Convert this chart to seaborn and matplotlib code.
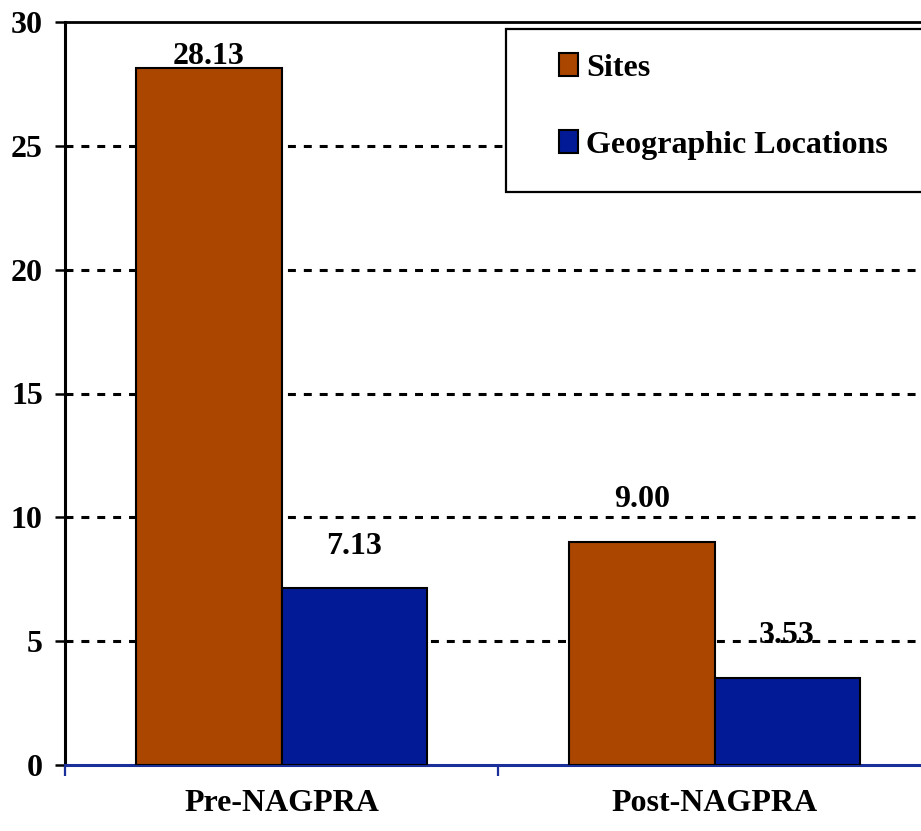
import matplotlib
matplotlib.use("Agg")
import matplotlib.pyplot as plt
from matplotlib.patches import Patch, Rectangle
from matplotlib.ticker import FixedLocator
import pandas as pd
import seaborn as sns

# Data
periods = ["Pre-NAGPRA", "Post-NAGPRA"]
series = ["Sites", "Geographic Locations"]
sites = [28.13, 9.00]
geo_locations = [7.13, 3.53]
y_ticks = [0, 5, 10, 15, 20, 25, 30]

orange = "#AA4600"
blue = "#031A97"
axis_blue = "#1A2F9A"

plt.rcParams["font.family"] = ["Liberation Serif", "DejaVu Serif"]
plt.rcParams["font.weight"] = "bold"
FS = 23

df = pd.DataFrame({
    "period": periods * 2,
    "series": [series[0]] * 2 + [series[1]] * 2,
    "value": sites + geo_locations,
})

fig = plt.figure(figsize=(9.21, 8.31), dpi=100)
ax = fig.add_axes([65 / 921, 66 / 831, 866 / 921, 743 / 831])

sns.barplot(data=df, x="period", y="value", hue="series", order=periods,
            hue_order=series, palette=[orange, blue], width=0.67,
            edgecolor="black", linewidth=1.5, saturation=1, ax=ax,
            legend=False, zorder=3)

ax.set_xlim(-0.5, 1.5)
ax.set_ylim(0, 30)
ax.set_xlabel("")
ax.set_ylabel("")

# Dashed gridlines between 0 and the top
for y in y_ticks[1:-1]:
    ax.axhline(y, color="black", lw=2.2, ls=(0, (2.6, 2.6)), zorder=1)

ax.set_yticks(y_ticks)
ax.tick_params(axis="y", length=7, width=1.8, color="black", pad=9,
               labelsize=FS)
ax.tick_params(axis="x", which="major", length=0, pad=17, labelsize=FS)
ax.xaxis.set_minor_locator(FixedLocator([-0.5, 0.5, 1.5]))
ax.tick_params(axis="x", which="minor", length=8, width=1.6,
               color=axis_blue, direction="out")
for lab in ax.get_xticklabels() + ax.get_yticklabels():
    lab.set_fontweight("bold")

ax.spines["left"].set_color("black")
ax.spines["left"].set_linewidth(2.2)
ax.spines["top"].set_color("black")
ax.spines["top"].set_linewidth(2.0)
ax.spines["bottom"].set_color(axis_blue)
ax.spines["bottom"].set_linewidth(2.2)
ax.spines["right"].set_visible(False)

# Value labels above each bar, kept inside the plot area
for container, vals in zip(ax.containers, [sites, geo_locations]):
    for bar, v in zip(container, vals):
        xc = bar.get_x() + bar.get_width() / 2
        yl = min(v + 1.7, 28.6)
        ax.text(xc, yl, f"{v:.2f}", ha="center", va="center",
                fontsize=FS, fontweight="bold", zorder=5)

# Legend box
fig.patches.append(Rectangle((506 / 921, (831 - 192) / 831), 0.6,
                             (192 - 29) / 831, transform=fig.transFigure,
                             facecolor="white", edgecolor="black", lw=1.6,
                             zorder=2))
handles = [Patch(facecolor=orange, edgecolor="black", lw=1.5),
           Patch(facecolor=blue, edgecolor="black", lw=1.5)]
fig.legend(handles, series, loc="center left",
           bbox_to_anchor=(543 / 921, (831 - 106.5) / 831),
           bbox_transform=fig.transFigure, frameon=False, borderpad=0,
           handlelength=0.6, handleheight=0.7, handletextpad=0.25,
           labelspacing=1.5, prop={"size": FS, "weight": "bold"})

fig.savefig("out.png", dpi=100)
